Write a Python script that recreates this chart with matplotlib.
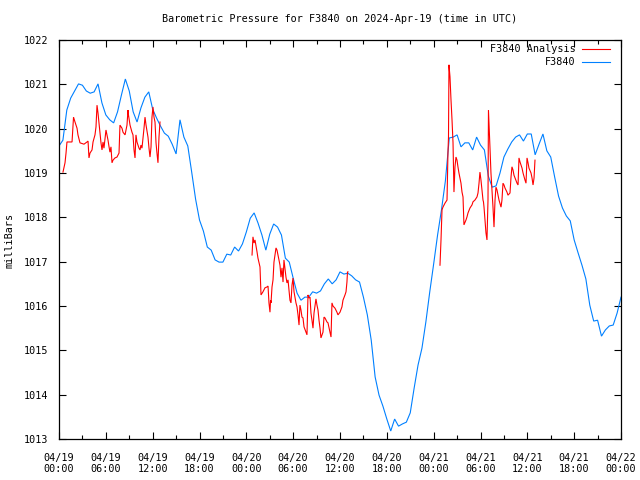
import numpy as np
import matplotlib
matplotlib.use("Agg")
import matplotlib.pyplot as plt
from matplotlib.lines import Line2D

title = "Barometric Pressure for F3840 on 2024-Apr-19 (time in UTC)"
ylabel = "milliBars"
series_names = ["F3840 Analysis", "F3840"]

# F3840 observations, every 30 minutes from 2024-04-19 00:00 UTC
obs_step_hours = 0.5
obs_values = [
    1019.61, 1019.74, 1020.42, 1020.69, 1020.85, 1021.01, 1020.98, 1020.85, 1020.80, 1020.83,
    1021.01, 1020.58, 1020.31, 1020.20, 1020.13, 1020.38, 1020.76, 1021.12, 1020.85, 1020.38,
    1020.15, 1020.47, 1020.71, 1020.83, 1020.44, 1020.24, 1020.06, 1019.90, 1019.83, 1019.65,
    1019.43, 1020.20, 1019.81, 1019.61, 1019.02, 1018.41, 1017.94, 1017.69, 1017.33, 1017.26,
    1017.04, 1016.99, 1016.99, 1017.17, 1017.15, 1017.33, 1017.24, 1017.40, 1017.67, 1017.98,
    1018.10, 1017.87, 1017.60, 1017.26, 1017.62, 1017.85, 1017.78, 1017.60, 1017.08, 1016.99,
    1016.63, 1016.29, 1016.13, 1016.20, 1016.20, 1016.32, 1016.29, 1016.34, 1016.50, 1016.61,
    1016.50, 1016.59, 1016.77, 1016.72, 1016.74, 1016.68, 1016.59, 1016.54, 1016.20, 1015.80,
    1015.23, 1014.40, 1013.99, 1013.74, 1013.45, 1013.18, 1013.45, 1013.29, 1013.34, 1013.38,
    1013.59, 1014.15, 1014.67, 1015.05, 1015.64, 1016.32, 1016.95, 1017.60, 1018.17, 1018.82,
    1019.79, 1019.81, 1019.86, 1019.59, 1019.68, 1019.68, 1019.52, 1019.81, 1019.63, 1019.52,
    1018.93, 1018.68, 1018.71, 1019.00, 1019.36, 1019.54, 1019.70, 1019.81, 1019.86, 1019.72,
    1019.88, 1019.88, 1019.41, 1019.65, 1019.88, 1019.50, 1019.36, 1018.91, 1018.48, 1018.21,
    1018.03, 1017.92, 1017.49, 1017.20, 1016.92, 1016.61, 1016.02, 1015.66, 1015.68, 1015.32,
    1015.46, 1015.55, 1015.57, 1015.84, 1016.20,
]

# Analysis series (hours since 04/19 00:00 UTC); None marks a gap
ana_hours = [
    0.51, 0.77, 0.90, 1.02, 1.67, 1.79, 1.86, 2.05, 2.31, 2.43, 2.69, 3.20, 3.59, 3.72, 3.84,
    3.97, 4.23, 4.36, 4.61, 4.74, 4.87, 5.00, 5.06, 5.25, 5.38, 5.51, 5.64, 5.76, 6.02, 6.15,
    6.28, 6.41, 6.53, 6.66, 6.79, 6.92, 7.17, 7.43, 7.69, 7.81, 8.07, 8.20, 8.46, 8.71, 8.84,
    8.90, 9.10, 9.35, 9.48, 9.61, 9.74, 9.86, 9.99, 10.25, 10.38, 10.50, 10.63, 10.89, 11.02,
    11.15, 11.40, 11.53, 11.66, 11.79, 11.91, 12.04, 12.17, 12.30, 12.43, 12.55, 12.68, 12.81,
    12.94,
    None,
    24.73, 24.85, 24.98, 25.11, 25.37, 25.49, 25.75, 25.88, 26.13, 26.39, 26.65, 26.78, 26.90,
    27.03, 27.10, 27.16, 27.29, 27.42, 27.48, 27.54, 27.80, 27.93, 28.06, 28.18, 28.31, 28.44,
    28.57, 28.70, 28.76, 28.82, 29.08, 29.21, 29.34, 29.59, 29.72, 29.85, 29.98, 30.11, 30.36,
    30.49, 30.62, 30.75, 30.87, 31.00, 31.13, 31.26, 31.39, 31.64, 31.77, 31.90, 32.03, 32.16,
    32.28, 32.41, 32.54, 32.67, 32.92, 33.05, 33.18, 33.31, 33.44, 33.56, 33.82, 33.95, 34.08,
    34.33, 34.46, 34.72, 34.85, 34.97, 35.10, 35.36, 35.61, 35.74, 36.00, 36.25, 36.38, 36.64,
    36.77, 36.89, 36.96, 37.02,
    None,
    48.81, 48.94, 49.07, 49.19, 49.45, 49.71, 49.83, 49.90, 49.96, 50.09, 50.22, 50.35, 50.48,
    50.54, 50.60, 50.73, 50.86, 50.99, 51.11, 51.24, 51.50, 51.63, 51.76, 51.82, 51.88, 52.14,
    52.27, 52.40, 52.65, 52.91, 53.04, 53.29, 53.55, 53.68, 53.81, 53.93, 54.06, 54.19, 54.32,
    54.38, 54.45, 54.57, 54.70, 54.83, 54.96, 55.02, 55.09, 55.21, 55.34, 55.47, 55.60, 55.73,
    55.86, 55.98, 56.11, 56.24, 56.37, 56.63, 56.75, 56.88, 57.01, 57.14, 57.39, 57.52, 57.78,
    57.91, 58.03, 58.16, 58.29, 58.42, 58.68, 58.81, 58.93, 59.06, 59.32, 59.45, 59.70, 59.83,
    59.96, 60.09, 60.21, 60.47, 60.60, 60.73, 60.86, 60.98,
]
ana_values = [
    1019.02, 1019.23, 1019.45, 1019.70, 1019.70, 1020.04, 1020.26, 1020.15, 1020.01, 1019.86,
    1019.68, 1019.65, 1019.70, 1019.72, 1019.34, 1019.45, 1019.52, 1019.70, 1019.86, 1020.04,
    1020.53, 1020.35, 1020.24, 1019.92, 1019.68, 1019.52, 1019.70, 1019.56, 1019.97, 1019.86,
    1019.74, 1019.59, 1019.47, 1019.59, 1019.23, 1019.29, 1019.34, 1019.36, 1019.45, 1020.08,
    1020.01, 1019.92, 1019.86, 1020.08, 1020.42, 1020.31, 1020.08, 1019.92, 1019.86, 1019.52,
    1019.34, 1019.86, 1019.70, 1019.56, 1019.52, 1019.63, 1019.56, 1020.01, 1020.26, 1020.08,
    1019.81, 1019.56, 1019.36, 1019.59, 1020.26, 1020.49, 1020.26, 1020.15, 1019.68, 1019.45,
    1019.23, 1019.81, 1020.15,
    None,
    1017.15, 1017.56, 1017.42, 1017.49, 1017.22, 1017.08, 1016.88, 1016.25, 1016.32, 1016.41,
    1016.43, 1016.45, 1016.07, 1015.86, 1016.13, 1016.07, 1016.43, 1016.59, 1016.77, 1016.99,
    1017.31, 1017.26, 1017.15, 1017.04, 1016.92, 1016.65, 1016.86, 1016.54, 1016.81, 1017.04,
    1016.65, 1016.52, 1016.59, 1016.13, 1016.07, 1016.47, 1016.63, 1016.32, 1016.07, 1015.98,
    1015.80, 1015.57, 1016.02, 1015.91, 1015.75, 1015.73, 1015.53, 1015.41, 1015.35, 1016.25,
    1016.18, 1016.20, 1015.84, 1015.68, 1015.50, 1015.84, 1016.16, 1016.02, 1015.91, 1015.68,
    1015.50, 1015.28, 1015.41, 1015.75, 1015.73, 1015.64, 1015.62, 1015.41, 1015.30, 1016.07,
    1016.00, 1015.95, 1015.86, 1015.80, 1015.86, 1015.98, 1016.13, 1016.25, 1016.32, 1016.54,
    1016.77, 1016.77,
    None,
    1016.92, 1017.49, 1018.17, 1018.23, 1018.32, 1018.39, 1019.45, 1019.81, 1021.44, 1021.17,
    1020.65, 1020.20, 1019.68, 1019.14, 1018.57, 1019.14, 1019.36, 1019.29, 1019.14, 1019.00,
    1018.77, 1018.57, 1018.46, 1018.17, 1017.83, 1017.94, 1018.01, 1018.10, 1018.21, 1018.28,
    1018.35, 1018.39, 1018.46, 1018.55, 1018.77, 1019.02, 1018.84, 1018.62, 1018.39, 1018.35,
    1018.23, 1017.94, 1017.65, 1017.49, 1018.39, 1020.42, 1020.13, 1019.59, 1019.00, 1018.62,
    1018.23, 1017.78, 1018.39, 1018.68, 1018.62, 1018.50, 1018.39, 1018.23, 1018.39, 1018.77,
    1018.73, 1018.66, 1018.57, 1018.50, 1018.55, 1018.91, 1019.14, 1019.07, 1018.95, 1018.89,
    1018.77, 1018.73, 1019.34, 1019.25, 1019.11, 1019.00, 1018.84, 1018.77, 1019.34, 1019.23,
    1019.11, 1019.00, 1018.89, 1018.73, 1018.89, 1019.29,
]

xtick_hours = [0, 6, 12, 18, 24, 30, 36, 42, 48, 54, 60, 66, 72]
xtick_labels = ["04/19\n00:00", "04/19\n06:00", "04/19\n12:00", "04/19\n18:00",
                "04/20\n00:00", "04/20\n06:00", "04/20\n12:00", "04/20\n18:00",
                "04/21\n00:00", "04/21\n06:00", "04/21\n12:00", "04/21\n18:00",
                "04/22\n00:00"]
ytick_values = [1013, 1014, 1015, 1016, 1017, 1018, 1019, 1020, 1021, 1022]

RED = "#ff0000"
BLUE = "#0080ff"
FONT = ["DejaVu Sans Mono"]
FS = 7.3

plt.rcParams["font.family"] = FONT
plt.rcParams["font.size"] = FS

obs_hours = np.arange(len(obs_values)) * obs_step_hours
ana_h = np.array([np.nan if v is None else v for v in ana_hours], dtype=float)
ana_v = np.array([np.nan if v is None else v for v in ana_values], dtype=float)

fig = plt.figure(figsize=(6.4, 4.8), dpi=100)
ax = fig.add_axes([59 / 640, 1 - 439 / 480, 562 / 640, 399 / 480])

ax.plot(obs_hours, obs_values, color=BLUE, lw=0.8, solid_joinstyle="miter")
ax.plot(ana_h, ana_v, color=RED, lw=0.8, solid_joinstyle="miter")

ax.set_xlim(0, 72)
ax.set_ylim(1013, 1022)
ax.set_xticks(xtick_hours)
ax.set_xticklabels(xtick_labels, linespacing=1.1)
ax.set_xticks(np.arange(0, 73, 3), minor=True)
ax.set_yticks(ytick_values)
ax.set_yticklabels([str(v) for v in ytick_values])

ax.tick_params(axis="both", which="major", direction="in", length=5, width=0.8,
               top=True, right=True, labelsize=FS, colors="black")
ax.tick_params(axis="x", which="minor", direction="in", length=3, width=0.8,
               top=True, bottom=True)
ax.tick_params(axis="x", which="major", pad=10)
ax.tick_params(axis="y", which="major", pad=8)
for s in ax.spines.values():
    s.set_linewidth(0.9)
    s.set_color("black")

fig.text(340 / 640, 1 - 19 / 480, title, ha="center", va="center", fontsize=FS)
fig.text(10 / 640, 0.5, ylabel, rotation=90, ha="center", va="center", fontsize=FS)

# key (gnuplot style: right-aligned text, sample line to the right)
key_rows = [(series_names[0], RED, 49), (series_names[1], BLUE, 62)]
for name, col, ypx in key_rows:
    yf = 1 - ypx / 480
    fig.text(576 / 640, yf, name, ha="right", va="center", fontsize=FS)
    fig.add_artist(Line2D([582 / 640, 610 / 640], [yf, yf], color=col, lw=0.8,
                          transform=fig.transFigure))

fig.savefig("out.png", dpi=100)
